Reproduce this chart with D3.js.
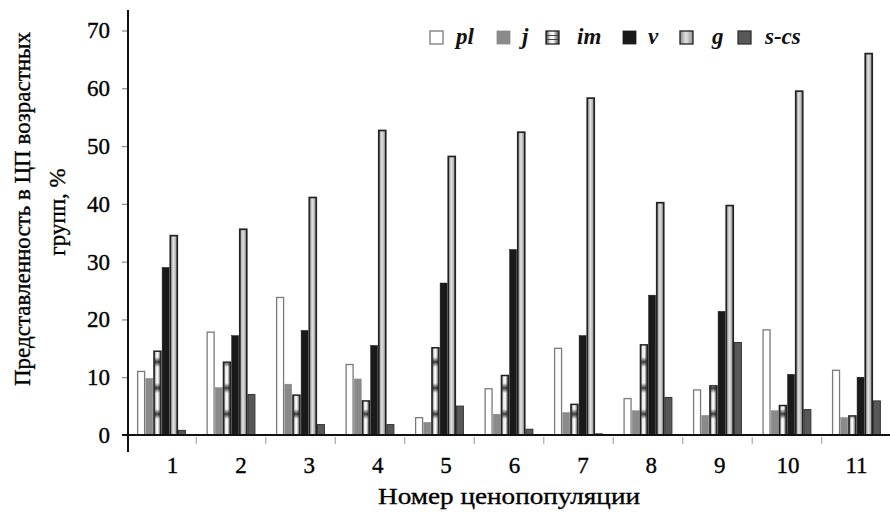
<!DOCTYPE html>
<html><head><meta charset="utf-8">
<script src="https://cdn.jsdelivr.net/npm/d3@7"></script>
<style>
html,body{margin:0;padding:0;background:#fff;}
svg{display:block;font-family:"Liberation Serif","DejaVu Serif",serif;}
</style></head>
<body>
<svg id="chart" width="890" height="514"></svg>
<script>
const categories = ["1","2","3","4","5","6","7","8","9","10","11"];
const seriesNames = ["pl","j","im","v","g","s-cs"];
const pl  = [11.0, 17.8, 23.8, 12.2, 3.0, 8.0, 15.0, 6.3, 7.8, 18.2, 11.2];
const j   = [9.8, 8.2, 8.8, 9.7, 2.2, 3.6, 3.9, 4.2, 3.4, 4.2, 3.0];
const im  = [14.5, 12.6, 6.9, 5.9, 15.1, 10.3, 5.3, 15.6, 8.5, 5.1, 3.3];
const v   = [29.0, 17.2, 18.1, 15.5, 26.3, 32.1, 17.2, 24.2, 21.4, 10.5, 10.0];
const g   = [34.5, 35.6, 41.1, 52.7, 48.2, 52.4, 58.3, 40.2, 39.7, 59.5, 66.0];
const scs = [0.8, 7.0, 1.8, 1.8, 5.0, 1.0, 0.2, 6.5, 16.0, 4.4, 5.9];
const yTicks = [0,10,20,30,40,50,60,70];
const yTitle = ["Представленность в ЦП возрастных", "групп, %"];
const xTitle = "Номер ценопопуляции";

const seriesValues = {"pl":pl,"j":j,"im":im,"v":v,"g":g,"s-cs":scs};
const rows = categories.map((c,i)=>({cat:c, vals:seriesNames.map(s=>({s, v:seriesValues[s][i]}))}));

const svg = d3.select("#chart");
const defs = svg.append("defs");
const gGrad = defs.append("linearGradient").attr("id","gGrad").attr("x1","0").attr("x2","1").attr("y1","0").attr("y2","0");
gGrad.append("stop").attr("offset","0").attr("stop-color","#8a8a8a");
gGrad.append("stop").attr("offset","0.45").attr("stop-color","#e2e2e2");
gGrad.append("stop").attr("offset","1").attr("stop-color","#909090");
const imGrad = defs.append("linearGradient").attr("id","imGrad").attr("x1","0").attr("x2","1").attr("y1","0").attr("y2","0");
imGrad.append("stop").attr("offset","0").attr("stop-color","#3a3a3a");
imGrad.append("stop").attr("offset","0.3").attr("stop-color","#e8e8e8");
imGrad.append("stop").attr("offset","0.55").attr("stop-color","#ffffff");
imGrad.append("stop").attr("offset","1").attr("stop-color","#3a3a3a");
const bandGrad = defs.append("linearGradient").attr("id","bandGrad").attr("x1","0").attr("x2","0").attr("y1","0").attr("y2","1");
bandGrad.append("stop").attr("offset","0").attr("stop-color","#000").attr("stop-opacity","0");
bandGrad.append("stop").attr("offset","0.5").attr("stop-color","#000").attr("stop-opacity","0.75");
bandGrad.append("stop").attr("offset","1").attr("stop-color","#000").attr("stop-opacity","0");
const pat = defs.append("pattern").attr("id","imBands").attr("patternUnits","userSpaceOnUse")
  .attr("x",0).attr("y",435).attr("width",900).attr("height",26);
pat.append("rect").attr("x",0).attr("y",0).attr("width",900).attr("height",10).attr("fill","url(#bandGrad)");

const styles = {
  "pl":{fill:"#ffffff", stroke:"#7a7a7a", sw:1.3},
  "j":{fill:"#8a8a8a", stroke:"#8a8a8a", sw:0.5},
  "im":{fill:"url(#imGrad)", stroke:"#222", sw:1.5, overlay:"url(#imBands)"},
  "v":{fill:"#1a1a1a", stroke:"#1a1a1a", sw:0.5},
  "g":{fill:"url(#gGrad)", stroke:"#222", sw:1.7},
  "s-cs":{fill:"#585858", stroke:"#333", sw:1}
};

const left = 128, right = 890, y0 = 435;
const x0 = d3.scaleBand().domain(categories).range([left, right]).paddingInner(0.295).paddingOuter(0.13);
const x1 = d3.scaleBand().domain(seriesNames).range([0, x0.bandwidth()]);
const y = d3.scaleLinear().domain([0,70]).range([y0, 30.5]);
const xLab = d3.scalePoint().domain(categories).range([172, 856]);

// bars
const grp = svg.append("g").selectAll("g").data(rows).join("g")
  .attr("transform", d=>`translate(${x0(d.cat)},0)`);
grp.selectAll("rect.bar").data(d=>d.vals).join("rect").attr("class","bar")
  .attr("x", d=>x1(d.s)+0.6).attr("width", x1.bandwidth()-1.2)
  .attr("y", d=>y(d.v)).attr("height", d=>y0 - y(d.v))
  .attr("fill", d=>styles[d.s].fill).attr("stroke", d=>styles[d.s].stroke).attr("stroke-width", d=>styles[d.s].sw);
grp.selectAll("rect.ov").data(d=>d.vals.filter(e=>styles[e.s].overlay)).join("rect").attr("class","ov")
  .attr("x", d=>x1(d.s)+1.5).attr("width", x1.bandwidth()-3)
  .attr("y", d=>y(d.v)+1).attr("height", d=>Math.max(0,y0 - y(d.v)-1))
  .attr("fill", d=>styles[d.s].overlay);

const heavy = sel => sel.attr("fill","#000").attr("stroke","#000").attr("stroke-width",0.35);

// y axis
const yAxis = svg.append("g").attr("transform",`translate(${left},0)`)
  .call(d3.axisLeft(y).tickValues(yTicks).tickSize(6).tickPadding(12).tickFormat(d3.format("d")));
yAxis.select(".domain").remove();
yAxis.selectAll(".tick line").attr("stroke","#888").attr("stroke-width",1.2);
yAxis.selectAll(".tick text").attr("font-family","Liberation Serif").attr("font-size",23).call(heavy);
svg.append("line").attr("x1",left).attr("x2",left).attr("y1",10).attr("y2",452).attr("stroke","#111").attr("stroke-width",2);

// x axis
svg.append("line").attr("x1",122).attr("x2",890).attr("y1",y0).attr("y2",y0).attr("stroke","#111").attr("stroke-width",2);
const bounds = categories.slice(1).map(c=>x0(c) - x0.step()*x0.paddingInner()/2);
svg.append("g").selectAll("line").data(bounds).join("line")
  .attr("x1",d=>d).attr("x2",d=>d).attr("y1",y0+2).attr("y2",y0+9).attr("stroke","#aaa").attr("stroke-width",1.2);
const xAxis = svg.append("g").attr("transform",`translate(0,${y0})`)
  .call(d3.axisBottom(xLab).tickSize(0).tickPadding(22));
xAxis.select(".domain").remove();
xAxis.selectAll(".tick text").attr("font-family","Liberation Serif").attr("font-size",23).call(heavy);

// titles
svg.append("text").attr("x",509).attr("y",504).attr("text-anchor","middle")
  .attr("font-size",24).attr("textLength",262).attr("lengthAdjust","spacingAndGlyphs").call(heavy).text(xTitle);
svg.append("g").attr("transform","translate(30,209) rotate(-90)")
  .append("text").attr("text-anchor","middle").attr("font-size",23).call(heavy).text(yTitle[0]);
svg.append("g").attr("transform","translate(65,212) rotate(-90)")
  .append("text").attr("text-anchor","middle").attr("font-size",23).call(heavy).text(yTitle[1]);

// legend
const legendX = [430, 497, 546, 623, 680, 738];
const lg = svg.append("g").selectAll("g").data(seriesNames).join("g")
  .attr("transform",(d,i)=>`translate(${legendX[i]},31)`);
lg.append("rect").attr("width",13).attr("height",13)
  .attr("fill", d=>styles[d].fill).attr("stroke", d=>styles[d].stroke).attr("stroke-width", d=>Math.min(1.3,styles[d].sw+0.3));
lg.filter(d=>styles[d].overlay).append("g").selectAll("line").data([4.5,8.5]).join("line")
  .attr("x1",1).attr("x2",12).attr("y1",d=>d).attr("y2",d=>d).attr("stroke","#444").attr("stroke-width",1);
lg.append("text").attr("x",d=>d==="pl"?26:(d==="s-cs"?27:(d==="v"?25:(d==="g"?32:(d==="im"?31:25)))))
  .attr("y",13).attr("font-size",23).attr("font-style","italic").attr("font-weight","bold").attr("fill","#111").text(d=>d);
</script>
</body></html>
